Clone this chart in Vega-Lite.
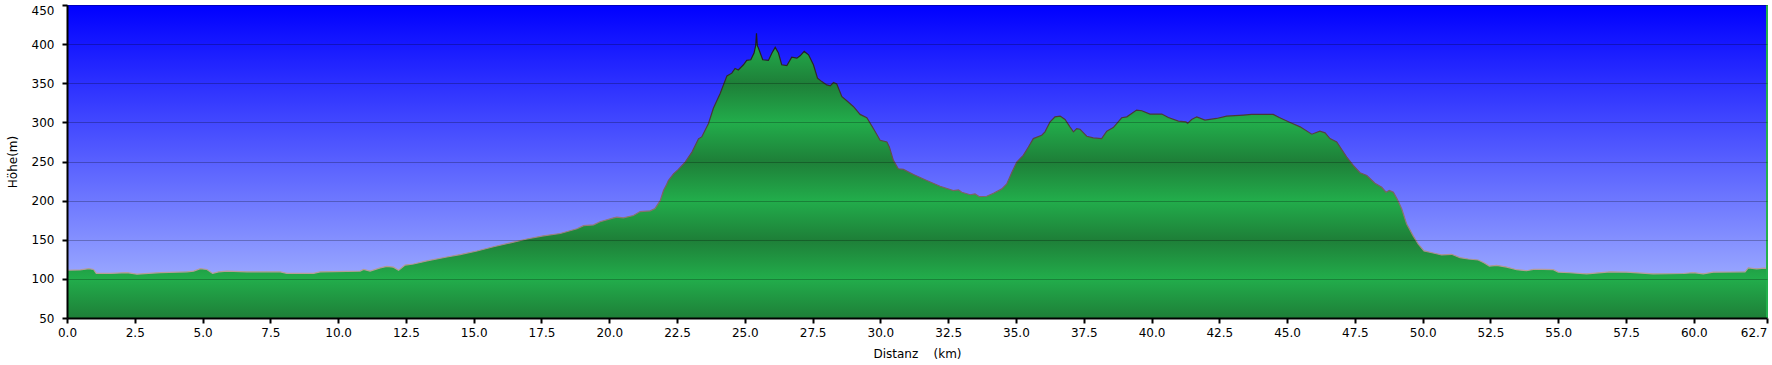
{
  "$schema": "https://vega.github.io/schema/vega-lite/v6.json",
  "width": 1700,
  "height": 313,
  "autosize": {"type": "none"},
  "padding": {"left": 67, "top": 5, "right": 5, "bottom": 47},
  "background": "white",
  "config": {
    "font": "DejaVu Sans",
    "view": {
      "stroke": null,
      "fill": {"gradient": "linear", "x1": 0, "y1": 0, "x2": 0, "y2": 1,
        "stops": [{"offset": 0, "color": "#0000FF"}, {"offset": 1, "color": "#B0C0FF"}]}
    }
  },
  "data": {"values": [
    {"km": 0.0, "m": 111}, {"km": 0.49, "m": 111.5}, {"km": 0.8, "m": 113}, {"km": 0.98, "m": 112},
    {"km": 1.08, "m": 107}, {"km": 1.6, "m": 107}, {"km": 2.21, "m": 108}, {"km": 2.58, "m": 106},
    {"km": 3.44, "m": 108}, {"km": 4.42, "m": 109}, {"km": 4.67, "m": 110}, {"km": 4.92, "m": 113},
    {"km": 5.16, "m": 112}, {"km": 5.37, "m": 107}, {"km": 5.59, "m": 109}, {"km": 5.9, "m": 110},
    {"km": 6.64, "m": 109}, {"km": 7.87, "m": 109}, {"km": 8.11, "m": 107}, {"km": 9.09, "m": 107},
    {"km": 9.34, "m": 109}, {"km": 10.81, "m": 110}, {"km": 10.94, "m": 112}, {"km": 11.18, "m": 110},
    {"km": 11.55, "m": 114}, {"km": 11.8, "m": 116}, {"km": 12.04, "m": 115}, {"km": 12.23, "m": 111},
    {"km": 12.47, "m": 117.6}, {"km": 12.78, "m": 119}, {"km": 13.27, "m": 123}, {"km": 14.01, "m": 128},
    {"km": 14.5, "m": 131}, {"km": 15.12, "m": 135.6}, {"km": 15.73, "m": 141}, {"km": 16.35, "m": 146},
    {"km": 16.96, "m": 151}, {"km": 17.57, "m": 155}, {"km": 18.19, "m": 158}, {"km": 18.81, "m": 164},
    {"km": 19.05, "m": 168}, {"km": 19.42, "m": 169}, {"km": 19.66, "m": 173}, {"km": 20.16, "m": 178},
    {"km": 20.28, "m": 179}, {"km": 20.52, "m": 178}, {"km": 20.89, "m": 181}, {"km": 21.14, "m": 186},
    {"km": 21.51, "m": 187}, {"km": 21.69, "m": 190}, {"km": 21.88, "m": 200}, {"km": 22.0, "m": 212.9},
    {"km": 22.12, "m": 221}, {"km": 22.18, "m": 225.7}, {"km": 22.37, "m": 234.3}, {"km": 22.55, "m": 239.9},
    {"km": 22.8, "m": 249.3}, {"km": 23.05, "m": 262}, {"km": 23.29, "m": 279}, {"km": 23.41, "m": 281.4},
    {"km": 23.66, "m": 298.6}, {"km": 23.84, "m": 318}, {"km": 24.09, "m": 337}, {"km": 24.34, "m": 359.4},
    {"km": 24.52, "m": 362.9}, {"km": 24.64, "m": 368.9}, {"km": 24.76, "m": 367}, {"km": 24.95, "m": 373.6},
    {"km": 25.07, "m": 379.2}, {"km": 25.22, "m": 380}, {"km": 25.34, "m": 388.6}, {"km": 25.4, "m": 398},
    {"km": 25.43, "m": 414}, {"km": 25.46, "m": 398}, {"km": 25.5, "m": 395}, {"km": 25.66, "m": 380},
    {"km": 25.87, "m": 379.2}, {"km": 26.0, "m": 388.6}, {"km": 26.12, "m": 395.9}, {"km": 26.24, "m": 388.6},
    {"km": 26.36, "m": 373.6}, {"km": 26.55, "m": 372.7}, {"km": 26.73, "m": 383.4}, {"km": 26.92, "m": 382.1},
    {"km": 27.04, "m": 385}, {"km": 27.19, "m": 390.7}, {"km": 27.35, "m": 386.4}, {"km": 27.53, "m": 373.6},
    {"km": 27.68, "m": 356.4}, {"km": 27.84, "m": 352.1}, {"km": 28.02, "m": 347.9}, {"km": 28.15, "m": 346.6},
    {"km": 28.27, "m": 350.9}, {"km": 28.39, "m": 349.1}, {"km": 28.58, "m": 332.9}, {"km": 28.76, "m": 327.7},
    {"km": 29.01, "m": 320}, {"km": 29.25, "m": 310.2}, {"km": 29.5, "m": 305.9}, {"km": 29.74, "m": 292.2},
    {"km": 29.99, "m": 277.1}, {"km": 30.24, "m": 275}, {"km": 30.33, "m": 268.6}, {"km": 30.48, "m": 251.4},
    {"km": 30.66, "m": 240.7}, {"km": 30.85, "m": 239.9}, {"km": 31.22, "m": 233.4}, {"km": 31.71, "m": 225.7},
    {"km": 32.2, "m": 218.4}, {"km": 32.69, "m": 212.9}, {"km": 32.88, "m": 213.7}, {"km": 33.0, "m": 210.7},
    {"km": 33.31, "m": 207.5}, {"km": 33.49, "m": 208.6}, {"km": 33.65, "m": 205}, {"km": 33.92, "m": 205.6},
    {"km": 34.17, "m": 209.4}, {"km": 34.48, "m": 215}, {"km": 34.66, "m": 221.4}, {"km": 34.85, "m": 236.4},
    {"km": 35.03, "m": 249.3}, {"km": 35.27, "m": 257.9}, {"km": 35.46, "m": 268.6}, {"km": 35.64, "m": 279.3},
    {"km": 35.95, "m": 283.6}, {"km": 36.07, "m": 287.9}, {"km": 36.26, "m": 300.7}, {"km": 36.44, "m": 307.1},
    {"km": 36.63, "m": 308}, {"km": 36.81, "m": 303.7}, {"km": 36.99, "m": 294.3}, {"km": 37.12, "m": 287.9},
    {"km": 37.24, "m": 292.1}, {"km": 37.36, "m": 291.3}, {"km": 37.61, "m": 282.3}, {"km": 37.85, "m": 280.1},
    {"km": 38.16, "m": 279.3}, {"km": 38.35, "m": 288.7}, {"km": 38.59, "m": 293.4}, {"km": 38.9, "m": 305.9},
    {"km": 39.09, "m": 307.1}, {"km": 39.45, "m": 315.7}, {"km": 39.64, "m": 314.9}, {"km": 39.94, "m": 310.6},
    {"km": 40.38, "m": 310.6}, {"km": 40.62, "m": 306.3}, {"km": 40.99, "m": 301.6}, {"km": 41.27, "m": 300.7},
    {"km": 41.33, "m": 298.6}, {"km": 41.48, "m": 303.7}, {"km": 41.67, "m": 307.1}, {"km": 41.97, "m": 302.9},
    {"km": 42.4, "m": 305}, {"km": 42.77, "m": 308}, {"km": 43.39, "m": 309.3}, {"km": 43.69, "m": 310.1},
    {"km": 43.88, "m": 310.1}, {"km": 44.49, "m": 310.1}, {"km": 44.71, "m": 306.3}, {"km": 45.11, "m": 299.9},
    {"km": 45.48, "m": 294.3}, {"km": 45.91, "m": 284.9}, {"km": 46.21, "m": 288.7}, {"km": 46.4, "m": 286.6},
    {"km": 46.58, "m": 279.3}, {"km": 46.83, "m": 275}, {"km": 47.2, "m": 255.7}, {"km": 47.44, "m": 245},
    {"km": 47.69, "m": 235.6}, {"km": 47.94, "m": 232.1}, {"km": 48.24, "m": 222.3}, {"km": 48.49, "m": 217.1},
    {"km": 48.65, "m": 210.7}, {"km": 48.77, "m": 212.9}, {"km": 48.92, "m": 210.7}, {"km": 49.06, "m": 202.1},
    {"km": 49.23, "m": 189.3}, {"km": 49.41, "m": 170}, {"km": 49.65, "m": 155}, {"km": 49.84, "m": 144.3},
    {"km": 50.05, "m": 135.7}, {"km": 50.39, "m": 133.1}, {"km": 50.7, "m": 130.6}, {"km": 51.07, "m": 131.4},
    {"km": 51.38, "m": 127.1}, {"km": 51.68, "m": 125.4}, {"km": 52.05, "m": 124.1}, {"km": 52.26, "m": 120.7},
    {"km": 52.46, "m": 116.4}, {"km": 52.73, "m": 117.3}, {"km": 53.1, "m": 115.1}, {"km": 53.47, "m": 111.7},
    {"km": 53.83, "m": 110.4}, {"km": 54.08, "m": 112.1}, {"km": 54.45, "m": 112.1}, {"km": 54.82, "m": 111.7},
    {"km": 55.0, "m": 108.7}, {"km": 55.43, "m": 107.8}, {"km": 56.05, "m": 106.4}, {"km": 56.91, "m": 109},
    {"km": 57.52, "m": 108.6}, {"km": 58.5, "m": 106.4}, {"km": 59.61, "m": 106.9}, {"km": 59.98, "m": 108.1},
    {"km": 60.35, "m": 106.4}, {"km": 60.72, "m": 108.6}, {"km": 61.89, "m": 109}, {"km": 62.01, "m": 114.1},
    {"km": 62.32, "m": 112.9}, {"km": 62.59, "m": 113.7}, {"km": 62.7, "m": 113}
  ]},
  "layer": [
    {
      "mark": {
        "type": "area",
        "stroke": null,
        "fill": {"gradient": "linear", "x1": 0, "y1": 0, "x2": 0, "y2": 1,
          "stops": [
            {"offset": 0, "color": "#21A046"},
            {"offset": 0.0385, "color": "#22AD4B"},
            {"offset": 0.1758, "color": "#1E7F38"},
            {"offset": 0.3132, "color": "#22AD4B"},
            {"offset": 0.4505, "color": "#1E7F38"},
            {"offset": 0.5879, "color": "#22AD4B"},
            {"offset": 0.7253, "color": "#1E7F38"},
            {"offset": 0.8626, "color": "#22AD4B"},
            {"offset": 1, "color": "#1E7F38"}
          ]}
      },
      "encoding": {
        "x": {
          "field": "km", "type": "quantitative",
          "scale": {"domain": [0, 62.7], "nice": false, "zero": false},
          "axis": {
            "values": [0, 2.5, 5, 7.5, 10, 12.5, 15, 17.5, 20, 22.5, 25, 27.5, 30, 32.5, 35, 37.5, 40, 42.5, 45, 47.5, 50, 52.5, 55, 57.5, 60, 62.7],
            "tickCount": 60,
            "format": ".1f",
            "title": "Distanz\u00a0\u00a0\u00a0\u00a0(km)",
            "grid": false,
            "domainColor": "#000000", "domainWidth": 2,
            "tickColor": "#000000", "tickWidth": 2, "tickSize": 5,
            "labelPadding": 4, "labelFontSize": 12, "labelColor": "#000000",
            "labelFont": "DejaVu Sans",
            "labelFlush": false, "labelOverlap": false, "labelBound": false,
            "labelAlign": {"expr": "datum.value >= 62.7 ? 'right' : 'center'"},
            "titleFont": "DejaVu Sans", "titleFontSize": 12, "titleFontWeight": "normal", "titleColor": "#000000",
            "titleY": 30, "titleBaseline": "top",
            "zindex": 1
          }
        },
        "y": {
          "field": "m", "type": "quantitative",
          "scale": {"domain": [50, 450], "nice": false, "zero": false},
          "axis": {
            "values": [50, 100, 150, 200, 250, 300, 350, 400, 450],
            "tickCount": 20,
            "title": "Höhe(m)",
            "grid": true, "gridColor": "#000000", "gridOpacity": 0.25, "gridWidth": 1,
            "domainColor": "#000000", "domainWidth": 2,
            "tickColor": "#000000", "tickWidth": 2, "tickSize": 5,
            "labelPadding": 8, "labelFontSize": 12, "labelColor": "#000000",
            "labelFont": "DejaVu Sans",
            "labelFlush": false, "labelOverlap": false, "labelBound": false,
            "labelBaseline": {"expr": "datum.value >= 450 ? 'top' : 'middle'"},
            "titleFont": "DejaVu Sans", "titleFontSize": 12, "titleFontWeight": "normal", "titleColor": "#000000",
            "titleX": -55, "titleY": 156.5, "titleAngle": -90, "titleAlign": "center", "titleBaseline": "middle",
            "zindex": 1
          }
        },
        "y2": {"datum": 50}
      }
    },
    {
      "mark": {
        "type": "line",
        "strokeWidth": 1.2,
        "stroke": {"gradient": "linear", "x1": 0, "y1": 0, "x2": 0, "y2": 1,
          "stops": [
            {"offset": 0, "color": "#1a1a1a"},
            {"offset": 0.35, "color": "#4a3838"},
            {"offset": 0.65, "color": "#7a6060"},
            {"offset": 1, "color": "#b8a098"}
          ]}
      },
      "encoding": {
        "x": {"field": "km", "type": "quantitative"},
        "y": {"field": "m", "type": "quantitative"}
      }
    },
    {
      "data": {"values": [{}]},
      "mark": {"type": "rule", "color": "#22B14C", "strokeWidth": 2},
      "encoding": {"x": {"datum": 62.7}}
    }
  ]
}
